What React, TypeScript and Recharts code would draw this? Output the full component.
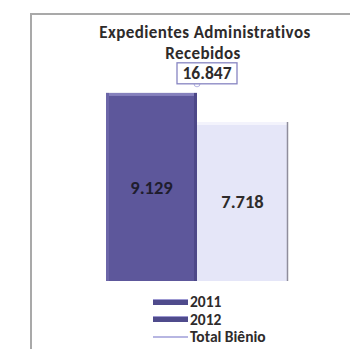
import React from 'react';
import { BarChart, Bar, Line, XAxis, YAxis, Legend, LabelList, Customized } from 'recharts';

const categories = ['Expedientes'];
const values2011 = [9129];
const values2012 = [7718];
const totalBienio = [16847];
const seriesNames = ['2011', '2012', 'Total Biênio'];
const titleLines = ['Expedientes Administrativos', 'Recebidos'];

const data = categories.map((c, i) => ({
  name: c,
  y2011: values2011[i],
  y2012: values2012[i],
  total: totalBienio[i],
}));

const FONT = 'Carlito, Calibri, Lato, "Open Sans", sans-serif';
const TEXT = '#2e2b2b';

const fmt = (v: number) => String(v).replace(/\B(?=(\d{3})+(?!\d))/g, '.');

const DarkBar = (props: any) => {
  const { x, y, width, height } = props;
  return (
    <g>
      <rect x={x} y={y} width={width} height={height} fill="#5d579b" />
      <rect x={x} y={y} width={width} height={3} fill="#8681bd" />
      <rect x={x} y={y} width={3} height={height} fill="#6c66a8" />
      <rect x={x + width - 3} y={y} width={3} height={height} fill="#4d4888" />
    </g>
  );
};

const LightBar = (props: any) => {
  const { x, y, width, height } = props;
  return (
    <g>
      <rect x={x} y={y} width={width} height={height} fill="#e5e6f8" />
      <rect x={x} y={y} width={width} height={3} fill="#f3f3fc" />
      <line x1={x + width - 0.5} y1={y} x2={x + width - 0.5} y2={y + height} stroke="#8f8d9c" strokeWidth={1.5} />
    </g>
  );
};

const TotalLabel = (props: any) => {
  const { x, y, value } = props;
  const cx = x + 10;
  return (
    <g>
      <rect x={cx - 30} y={y - 21} width={60} height={21} fill="#fff" stroke="#8785c2" strokeWidth={1.3} />
      <text x={cx} y={y - 4.5} textAnchor="middle" fontSize={17.5} fontWeight={700} fill={TEXT} fontFamily={FONT}>
        {fmt(value)}
      </text>
    </g>
  );
};

const Title = () => (
  <g>
    <text x={205} y={38} textAnchor="middle" fontSize={17} letterSpacing={0.4} fontWeight={700} fill={TEXT} fontFamily={FONT}>
      {titleLines[0]}
    </text>
    <text x={203} y={58.5} textAnchor="middle" fontSize={17} letterSpacing={0.4} fontWeight={700} fill={TEXT} fontFamily={FONT}>
      {titleLines[1]}
    </text>
  </g>
);

const renderLegend = (props: any) => {
  const { payload } = props;
  return (
    <div style={{ fontFamily: FONT, fontWeight: 700, fontSize: 15.5, color: TEXT }}>
      {(payload || []).map((entry: any, i: number) => (
        <div key={i} style={{ display: 'flex', alignItems: 'center', height: 17.5 }}>
          {entry.type === 'line' ? (
            <div style={{ width: 35, height: 2, background: '#b7b6e2', marginRight: 2 }} />
          ) : (
            <div
              style={{
                width: 35,
                height: 6,
                background: '#4f4b8c',
                borderTop: '1px solid #9d99d2',
                boxSizing: 'border-box',
                marginRight: 2,
              }}
            />
          )}
          <span>{entry.value}</span>
        </div>
      ))}
    </div>
  );
};

export default function App() {
  return (
    <div style={{ position: 'absolute', left: 0, top: 0, width: 350, height: 349, overflow: 'hidden', background: '#fff' }}>
      <div
        style={{
          position: 'absolute',
          left: 30,
          top: 13,
          width: 400,
          height: 400,
          borderLeft: '2px solid #a9a9a9',
          borderTop: '2px solid #a9a9a9',
        }}
      />
      <div style={{ position: 'absolute', left: 0, top: 0 }}>
        <BarChart
          width={360}
          height={349}
          data={data}
          margin={{ top: 75, right: 5, bottom: 68, left: 39 }}
          barGap={0}
        >
          <XAxis dataKey="name" tick={false} tickLine={false} height={0} axisLine={{ stroke: '#a3a3a3', strokeWidth: 1.5 }} />
          <YAxis yAxisId="l" hide domain={[0, 10000]} />
          <YAxis yAxisId="r" hide orientation="right" domain={[0, 17600]} />
          <Bar yAxisId="l" dataKey="y2011" name={seriesNames[0]} barSize={91} shape={<DarkBar />} fill="#5d579b" isAnimationActive={false}>
            <LabelList dataKey="y2011" position="center" formatter={(v: any) => fmt(v)} fill="#1f1d2e" fontSize={18.5} fontWeight={700} fontFamily={FONT} />
          </Bar>
          <Bar yAxisId="l" dataKey="y2012" name={seriesNames[1]} barSize={91} shape={<LightBar />} fill="#e5e6f8" isAnimationActive={false}>
            <LabelList dataKey="y2012" position="center" formatter={(v: any) => fmt(v)} fill={TEXT} fontSize={18.5} fontWeight={700} fontFamily={FONT} />
          </Bar>
          <Line yAxisId="r" dataKey="total" name={seriesNames[2]} stroke="#b7b6e2" dot={false} activeDot={false} legendType="line" isAnimationActive={false}>
            <LabelList dataKey="total" content={<TotalLabel />} />
          </Line>
          <Legend
            layout="vertical"
            align="center"
            verticalAlign="middle"
            content={renderLegend}
            wrapperStyle={{ position: 'absolute', left: 153, top: 293, width: 150 }}
          />
          <Customized component={<Title />} />
        </BarChart>
      </div>
    </div>
  );
}
